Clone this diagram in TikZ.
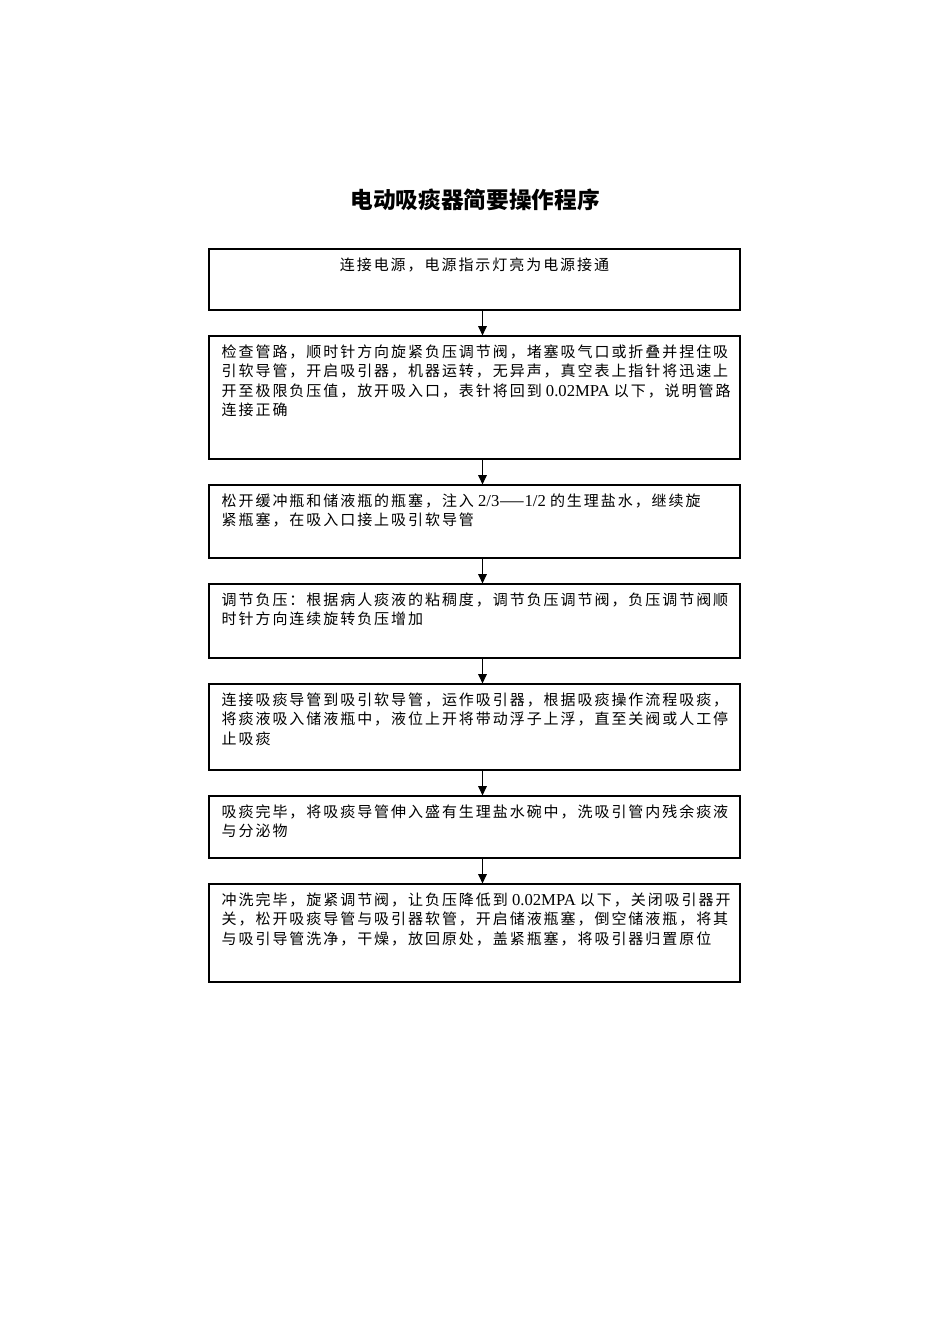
\documentclass[tikz,border=0pt]{standalone}
\usepackage{fontspec}
\usetikzlibrary{arrows.meta,calc}
\newfontfamily\cjk[LetterSpace=13]{Noto Sans CJK SC}
\newfontfamily\cjktitle{Noto Sans CJK SC}
\newfontfamily\latn{Liberation Serif}
\newcommand{\lt}[1]{{\latn\fontsize{12.5pt}{14.5pt}\selectfont #1}}
\tikzset{
  stepbox/.style={draw, line width=0.9pt, minimum width=398.25pt, inner sep=0pt},
  steptext/.style={anchor=north west, inner sep=0pt, align=left, font=\cjk\fontsize{11.25pt}{14.5pt}\selectfont},
  flow/.style={line width=0.8pt, -{Triangle[length=7pt,width=6.5pt]}}
}
\begin{document}
\begin{tikzpicture}[x=0.75pt,y=-0.75pt]
\useasboundingbox (0,0) rectangle (950,1344);
\node[font=\cjktitle\bfseries\fontsize{17pt}{20pt}\selectfont] (title) at (475,200) {电动吸痰器简要操作程序};

\node[stepbox, minimum height=45.75pt] (b1) at (474.5,279.5) {};
\node[stepbox, minimum height=92.25pt] (b2) at (474.5,397.5) {};
\node[stepbox, minimum height=54.75pt] (b3) at (474.5,521.5) {};
\node[stepbox, minimum height=55.5pt] (b4) at (474.5,621) {};
\node[stepbox, minimum height=64.5pt] (b5) at (474.5,727) {};
\node[stepbox, minimum height=46.5pt] (b6) at (474.5,827) {};
\node[stepbox, minimum height=73.5pt] (b7) at (474.5,933) {};

\node[steptext, anchor=north] (t1) at ($(b1.north)+(0,9)$) {连接电源，电源指示灯亮为电源接通};
\node[steptext] (t2) at ($(b2.north west)+(13,9)$) {检查管路，顺时针方向旋紧负压调节阀，堵塞吸气口或折叠并捏住吸\\引软导管，开启吸引器，机器运转，无异声，真空表上指针将迅速上\\开至极限负压值，放开吸入口，表针将回到\lt{ 0.02MPA }以下，说明管路\\连接正确};
\node[steptext] (t3) at ($(b3.north west)+(13,9)$) {松开缓冲瓶和储液瓶的瓶塞，注入\lt{ 2/3}——\lt{1/2 }的生理盐水，继续旋\\紧瓶塞，在吸入口接上吸引软导管};
\node[steptext] (t4) at ($(b4.north west)+(13,9)$) {调节负压：根据病人痰液的粘稠度，调节负压调节阀，负压调节阀顺\\时针方向连续旋转负压增加};
\node[steptext] (t5) at ($(b5.north west)+(13,9)$) {连接吸痰导管到吸引软导管，运作吸引器，根据吸痰操作流程吸痰，\\将痰液吸入储液瓶中，液位上开将带动浮子上浮，直至关阀或人工停\\止吸痰};
\node[steptext] (t6) at ($(b6.north west)+(13,9)$) {吸痰完毕，将吸痰导管伸入盛有生理盐水碗中，洗吸引管内残余痰液\\与分泌物};
\node[steptext] (t7) at ($(b7.north west)+(13,9)$) {冲洗完毕，旋紧调节阀，让负压降低到\lt{ 0.02MPA }以下，关闭吸引器开\\关，松开吸痰导管与吸引器软管，开启储液瓶塞，倒空储液瓶，将其\\与吸引导管洗净，干燥，放回原处，盖紧瓶塞，将吸引器归置原位};

\draw[flow] ([xshift=6pt]b1.south) -- ([xshift=6pt]b2.north);
\draw[flow] ([xshift=6pt]b2.south) -- ([xshift=6pt]b3.north);
\draw[flow] ([xshift=6pt]b3.south) -- ([xshift=6pt]b4.north);
\draw[flow] ([xshift=6pt]b4.south) -- ([xshift=6pt]b5.north);
\draw[flow] ([xshift=6pt]b5.south) -- ([xshift=6pt]b6.north);
\draw[flow] ([xshift=6pt]b6.south) -- ([xshift=6pt]b7.north);
\end{tikzpicture}
\end{document}
